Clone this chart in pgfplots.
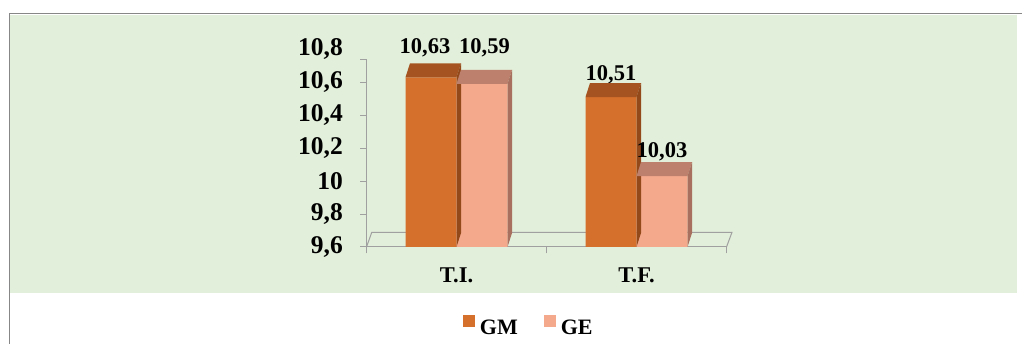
\documentclass[border=0pt]{standalone}
\usepackage{fontspec}
\setmainfont{Liberation Serif}
\usepackage{pgfplots}
\pgfplotsset{compat=1.18}
\usepackage{pgfplotstable}

\definecolor{panelgreen}{RGB}{226,239,218}
\definecolor{framegray}{RGB}{135,135,135}
\definecolor{axisgray}{RGB}{160,160,160}
\definecolor{gmfront}{RGB}{213,111,44}
\definecolor{gmtop}{RGB}{165,84,33}
\definecolor{gmside}{RGB}{148,73,27}
\definecolor{gefront}{RGB}{244,169,140}
\definecolor{getop}{RGB}{188,128,108}
\definecolor{geside}{RGB}{168,112,94}

% x: group centre, y: mean, dx/dy: placement of the value label (pt)
\pgfplotstableread{
x   y     dx     dy
0.5 10.63 -31.5  24
1.5 10.51 -25.5  16.3
}\gmdata
\pgfplotstableread{
x   y     dx     dy
0.5 10.59 28     30.7
1.5 10.03 25.5   18.3
}\gedata

% top and side faces of the 3D bars (bar width 51pt, depth 4.5pt x 14pt);
% \barh is the height of the bar in pt
\pgfdeclareplotmark{gmbox}{%
  \pgfpathmoveto{\pgfqpoint{-51pt}{0pt}}%
  \pgfpathlineto{\pgfqpoint{0pt}{0pt}}%
  \pgfpathlineto{\pgfqpoint{4.5pt}{14pt}}%
  \pgfpathlineto{\pgfqpoint{-46.5pt}{14pt}}%
  \pgfpathclose
  \pgfsetfillcolor{gmtop}\pgfusepath{fill}%
  \pgfpathmoveto{\pgfqpoint{0pt}{0pt}}%
  \pgfpathlineto{\pgfqpoint{4.5pt}{14pt}}%
  \pgfpathlineto{\pgfpoint{4.5pt}{14pt-\barh pt}}%
  \pgfpathlineto{\pgfpoint{0pt}{-\barh pt}}%
  \pgfpathclose
  \pgfsetfillcolor{gmside}\pgfusepath{fill}%
}
\pgfdeclareplotmark{gebox}{%
  \pgfpathmoveto{\pgfqpoint{0pt}{0pt}}%
  \pgfpathlineto{\pgfqpoint{51pt}{0pt}}%
  \pgfpathlineto{\pgfqpoint{55.5pt}{14pt}}%
  \pgfpathlineto{\pgfqpoint{4.5pt}{14pt}}%
  \pgfpathclose
  \pgfsetfillcolor{getop}\pgfusepath{fill}%
  \pgfpathmoveto{\pgfqpoint{51pt}{0pt}}%
  \pgfpathlineto{\pgfqpoint{55.5pt}{14pt}}%
  \pgfpathlineto{\pgfpoint{55.5pt}{14pt-\barh pt}}%
  \pgfpathlineto{\pgfpoint{51pt}{-\barh pt}}%
  \pgfpathclose
  \pgfsetfillcolor{geside}\pgfusepath{fill}%
}

\pgfplotsset{
  sq legend/.style={legend image code/.code={\fill[##1] (0pt,1pt) rectangle (12pt,13pt);}},
  value labels/.style={
    point meta=y,
    visualization depends on={\thisrow{dx} \as \dx},
    visualization depends on={\thisrow{dy} \as \dy},
    nodes near coords={\pgfmathprintnumber[fixed, fixed zerofill, precision=2, use comma, assume math mode=true]{\pgfplotspointmeta}},
    every node near coord/.append style={font=\fontsize{22.5}{26}\selectfont\bfseries,
      text=black, anchor=base, inner sep=0pt, xshift=\dx pt, yshift=\dy pt},
  },
  faces/.style={forget plot, scatter, only marks, mark=#1,
    visualization depends on={(\thisrow{y}-9.6)*164.8 \as \barh}},
}

\begin{document}
\begin{tikzpicture}[x=1pt,y=1pt]
\path[use as bounding box] (0,0) rectangle (1022,344);
\fill[white] (0,0) rectangle (1022,344);
\fill[panelgreen] (10,51) rectangle (1016.5,329);
\draw[framegray, line width=1pt] (9.5,0) -- (9.5,330.5) -- (1022,330.5);

\begin{axis}[
  at={(366.5pt,97pt)}, anchor=south west, scale only axis,
  width=360pt, height=197.76pt,
  xmin=0, xmax=2, ymin=9.6, ymax=10.8, clip=false,
  axis x line*=bottom, axis y line*=left,
  axis line style={axisgray, line width=1pt},
  y axis line style={draw=none},
  tick align=outside, major tick length=6.5pt,
  tick style={axisgray, line width=1pt},
  xtick={0,1,2}, xticklabels={},
  extra x ticks={0.5,1.5}, extra x tick labels={T.I.,T.F.},
  extra x tick style={major tick length=0pt,
    tick label style={font=\fontsize{22.5}{26}\selectfont\bfseries, anchor=base, inner sep=0pt, yshift=-36pt}},
  ytick={9.6,9.8,10,10.2,10.4,10.6},
  yticklabels={{9,6},{9,8},{10},{10,2},{10,4},{10,6}},
  extra y ticks={10.8}, extra y tick labels={10{,}8},
  extra y tick style={tick style={draw=none}},
  yticklabel style={font=\fontsize{25.5}{30}\selectfont\bfseries, anchor=east, inner sep=0pt, xshift=-17pt},
  legend style={at={(0.268,-0.3975)}, anchor=west, draw=none, fill=none,
    legend columns=2, font=\fontsize{22}{24}\selectfont\bfseries,
    inner sep=0pt, outer sep=0pt, nodes={inner sep=0pt},
    /tikz/every odd column/.append style={column sep=5pt},
    /tikz/every even column/.append style={column sep=26pt}},
]
% floor of the 3D plot area and the value axis
\draw[axisgray, line width=1pt]
  (axis cs:0,9.6) -- ++(5.2pt,14.5pt) -- ([shift={(5.4pt,14.5pt)}]axis cs:2,9.6) -- (axis cs:2,9.6);
\draw[axisgray, line width=1pt]
  (axis cs:0,9.6) -- (axis cs:0,10.735) -- ++(-6.5pt,0pt);

\addplot[ybar, bar width=51pt, bar shift=-25.5pt, fill=gmfront, draw=none, sq legend, value labels]
  table[x=x, y=y] {\gmdata};
\addlegendentry{GM}
\addplot[faces=gmbox] table[x=x, y=y] {\gmdata};

\addplot[ybar, bar width=51pt, bar shift=25.5pt, fill=gefront, draw=none, sq legend, value labels]
  table[x=x, y=y] {\gedata};
\addlegendentry{GE}
\addplot[faces=gebox] table[x=x, y=y] {\gedata};
\end{axis}
\end{tikzpicture}
\end{document}
